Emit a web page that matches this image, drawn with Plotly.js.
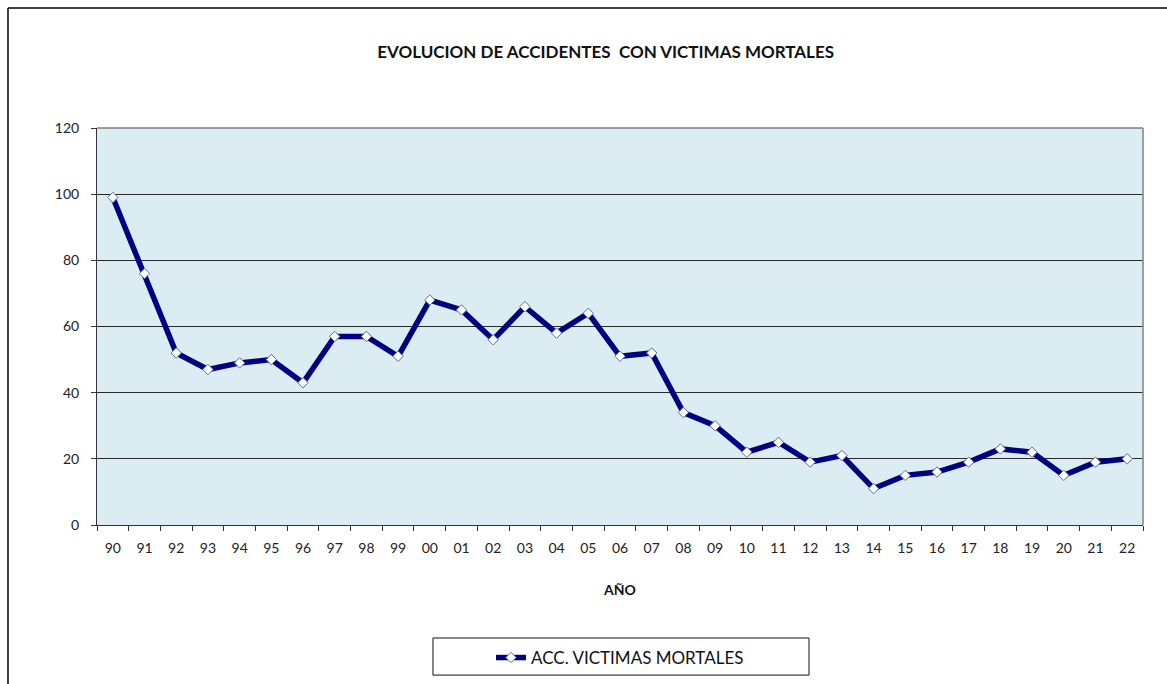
<!DOCTYPE html>
<html>
<head>
<meta charset="utf-8">
<script src="https://cdn.plot.ly/plotly-3.0.1.min.js"></script>
<style>
html,body{margin:0;padding:0;background:#fff;}
#chart{width:1167px;height:684px;}
</style>
</head>
<body>
<div id="chart"></div>
<script>
const years = ["90","91","92","93","94","95","96","97","98","99","00","01","02","03","04","05","06","07","08","09","10","11","12","13","14","15","16","17","18","19","20","21","22"];
const victimasMortales = [99,76,52,47,49,50,43,57,57,51,68,65,56,66,58,64,51,52,34,30,22,25,19,21,11,15,16,19,23,22,15,19,20];
const seriesName = "ACC. VICTIMAS MORTALES";
const chartTitle = "EVOLUCION DE ACCIDENTES  CON VICTIMAS MORTALES";
const xTitle = "AÑO";
const yTicks = [0,20,40,60,80,100,120];

const FONT = "Lato, 'Open Sans', sans-serif";

const trace = {
  x: years,
  y: victimasMortales,
  type: "scatter",
  mode: "lines+markers",
  name: seriesName,
  line: {color: "#000080", width: 5.5},
  marker: {symbol: "diamond", size: 8, color: "#ffffff", line: {color: "#5a6a9a", width: 1}},
  hoverinfo: "x+y"
};

const layout = {
  width: 1167,
  height: 684,
  paper_bgcolor: "#ffffff",
  plot_bgcolor: "#dbecf2",
  margin: {l: 97, r: 24, t: 128, b: 159, autoexpand: false},
  font: {family: FONT, color: "#222", size: 14},
  title: {
    text: "<b>" + chartTitle + "</b>",
    font: {family: FONT, size: 17, color: "#111"},
    x: 0.519, xanchor: "center",
    y: 1 - 52/684, yanchor: "middle", xref: "container", yref: "container",
    automargin: false
  },
  xaxis: {
    type: "category",
    automargin: false,
    range: [-0.5, years.length - 0.5],
    tickmode: "array",
    tickvals: years,
    ticktext: years,
    tickson: "boundaries",
    ticks: "outside",
    ticklen: 5,
    tickcolor: "#333",
    showgrid: false,
    showline: true,
    linecolor: "#333",
    linewidth: 1,
    mirror: false,
    tickfont: {family: FONT, size: 14, color: "#222"},
    ticklabelstandoff: 10,
    title: {text: "<b>" + xTitle + "</b>", font: {family: FONT, size: 14, color: "#111"}, standoff: 30},
    fixedrange: true
  },
  yaxis: {
    automargin: false,
    range: [0, 120],
    tickmode: "array",
    tickvals: yTicks,
    ticks: "outside",
    ticklen: 5,
    tickcolor: "#333",
    showgrid: true,
    gridcolor: "#2a2a2a",
    gridwidth: 1,
    zeroline: false,
    showline: true,
    linecolor: "#333",
    linewidth: 1,
    tickfont: {family: FONT, size: 14, color: "#222"},
    ticklabelstandoff: 9,
    fixedrange: true
  },
  showlegend: true,
  legend: {
    orientation: "h",
    x: 0.5, xanchor: "center",
    y: -0.335, yanchor: "middle",
    bgcolor: "rgba(0,0,0,0)",
    borderwidth: 0,
    font: {family: FONT, size: 17, color: "#111"},
    itemwidth: 30
  },
  shapes: [
    {type: "line", xref: "paper", yref: "paper", x0: 0, x1: 1, y0: 1, y1: 1, line: {color: "#808080", width: 1.5}},
    {type: "line", xref: "paper", yref: "paper", x0: 1, x1: 1, y0: 0, y1: 1, line: {color: "#808080", width: 1.5}},
    {type: "rect", xref: "paper", yref: "paper", x0: 0.3212, x1: 0.6807, y0: -0.378, y1: -0.2846, line: {color: "#111", width: 1}, fillcolor: "rgba(0,0,0,0)"},
    {type: "line", xref: "paper", yref: "paper", x0: -0.0851, x1: -0.0851, y0: -0.45, y1: 1.3023, line: {color: "#000", width: 1.5}},
    {type: "line", xref: "paper", yref: "paper", x0: -0.0851, x1: 1.05, y0: 1.3023, y1: 1.3023, line: {color: "#000", width: 1.5}}
  ]
};

Plotly.newPlot("chart", [trace], layout, {displayModeBar: false, staticPlot: true});
</script>
</body>
</html>
